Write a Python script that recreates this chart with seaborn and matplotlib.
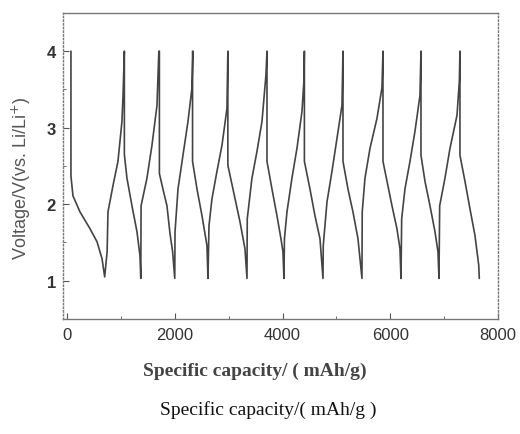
import numpy as np
import pandas as pd
import matplotlib
matplotlib.use("Agg")
import matplotlib.pyplot as plt
import seaborn as sns
from matplotlib.ticker import MultipleLocator

# ---- data (capacity in mAh/g, voltage in V) ----
discharge_cap = [
    [74, 74, 111, 241, 427, 557, 650, 700],
    [1065, 1065, 1113, 1206, 1299, 1354, 1370],
    [1715, 1715, 1780, 1855, 1911, 1960, 2000],
    [2330, 2330, 2412, 2505, 2597, 2616],
    [2985, 2985, 3080, 3210, 3302, 3340],
    [3711, 3711, 3803, 3896, 3970, 4007, 4026],
    [4405, 4405, 4508, 4601, 4694, 4750],
    [5121, 5121, 5213, 5306, 5399, 5473],
    [5863, 5863, 5937, 6030, 6122, 6178, 6197],
    [6568, 6568, 6642, 6735, 6828, 6883, 6902],
    [7291, 7291, 7384, 7477, 7570, 7640, 7650],
]
discharge_v = [
    [4.0, 2.37, 2.11, 1.90, 1.68, 1.51, 1.29, 1.05],
    [4.0, 2.65, 2.34, 1.98, 1.64, 1.33, 1.03],
    [4.0, 2.40, 2.20, 1.98, 1.62, 1.38, 1.03],
    [4.0, 2.56, 2.20, 1.85, 1.46, 1.03],
    [4.0, 2.51, 2.20, 1.77, 1.42, 1.03],
    [4.0, 2.56, 2.20, 1.85, 1.55, 1.38, 1.03],
    [4.0, 2.56, 2.20, 1.85, 1.55, 1.03],
    [4.0, 2.56, 2.20, 1.90, 1.55, 1.03],
    [4.0, 2.56, 2.30, 1.98, 1.68, 1.42, 1.03],
    [4.0, 2.64, 2.30, 1.98, 1.64, 1.38, 1.03],
    [4.0, 2.64, 2.30, 1.94, 1.59, 1.20, 1.03],
]
charge_cap = [
    [700, 745, 761, 853, 946, 1020, 1040, 1065],
    [1370, 1375, 1484, 1577, 1670, 1705],
    [2000, 2005, 2060, 2152, 2245, 2319, 2338],
    [2616, 2635, 2690, 2783, 2876, 2968, 2985],
    [3340, 3345, 3432, 3525, 3618, 3692, 3711],
    [4026, 4035, 4082, 4174, 4267, 4360, 4395, 4405],
    [4750, 4755, 4824, 4917, 5009, 5102, 5121],
    [5473, 5478, 5529, 5622, 5751, 5844, 5863],
    [6197, 6210, 6271, 6364, 6456, 6549, 6568],
    [6902, 6915, 7013, 7106, 7236, 7280, 7291],
]
charge_v = [
    [1.05, 1.38, 1.90, 2.24, 2.56, 3.08, 3.42, 4.0],
    [1.03, 1.98, 2.34, 2.77, 3.29, 4.0],
    [1.03, 1.64, 2.20, 2.64, 3.08, 3.52, 4.0],
    [1.03, 1.72, 2.07, 2.43, 2.77, 3.25, 4.0],
    [1.03, 1.81, 2.34, 2.69, 3.08, 3.69, 4.0],
    [1.03, 1.55, 1.90, 2.34, 2.73, 3.21, 3.60, 4.0],
    [1.03, 1.46, 2.03, 2.43, 2.86, 3.29, 4.0],
    [1.03, 1.90, 2.34, 2.73, 3.12, 3.52, 4.0],
    [1.03, 1.81, 2.20, 2.56, 2.95, 3.42, 4.0],
    [1.03, 1.98, 2.34, 2.73, 3.16, 3.61, 4.0],
]

x_ticks = [0, 2000, 4000, 6000, 8000]
y_ticks = [1, 2, 3, 4]

# ---- build one continuous trace: discharge, charge, discharge, ... ----
xs, ys = [], []
for i in range(len(discharge_cap)):
    xs += discharge_cap[i]
    ys += discharge_v[i]
    if i < len(charge_cap):
        xs += charge_cap[i]
        ys += charge_v[i]
df = pd.DataFrame({"cap": xs, "V": ys})

sns.set_style("ticks")
plt.rcParams["font.family"] = ["Liberation Sans", "DejaVu Sans"]

fig = plt.figure(figsize=(5.2, 4.35), dpi=100)
ax = fig.add_axes([0.121, 0.2644, 0.837, 0.7036])

sns.lineplot(data=df, x="cap", y="V", sort=False, estimator=None,
             color="#444444", linewidth=1.2, ax=ax)

ax.set_xlim(-75, 8000)
ax.set_ylim(0.5, 4.5)
ax.set_xticks(x_ticks)
ax.set_yticks(y_ticks)
ax.xaxis.set_minor_locator(MultipleLocator(1000))
ax.yaxis.set_minor_locator(MultipleLocator(0.5))
ax.tick_params(which="both", direction="in", top=False, right=False,
               colors="#555555")
ax.tick_params(which="major", length=4, width=0.8)
ax.tick_params(which="minor", length=2, width=0.6)
ax.tick_params(axis="x", labelsize=12, labelcolor="#333333", pad=6)
ax.tick_params(axis="y", labelsize=12, labelcolor="#333333", pad=5)
for lab in ax.get_yticklabels():
    lab.set_fontweight("bold")

for side in ["top", "right", "bottom", "left"]:
    ax.spines[side].set_visible(True)
    ax.spines[side].set_color("#777777")
    ax.spines[side].set_linewidth(1.0)
ax.spines["left"].set_linestyle(":")
ax.spines["right"].set_linestyle(":")

ax.set_ylabel("Voltage/V(vs. Li/Li$^{+}$)", fontsize=13, color="#555555")
ax.yaxis.set_label_coords(-0.069, 0.464)
ax.set_xlabel("")

fig.text(0.490, 1 - 371 / 435, "Specific capacity/ ( mAh/g)",
         family="Liberation Serif", fontsize=14, fontweight="bold",
         color="#444444", ha="center", va="center")
fig.text(0.515, 1 - 410 / 435, "Specific capacity/( mAh/g )",
         family="Liberation Serif", fontsize=14, color="#111111",
         ha="center", va="center")

fig.savefig("out.png", dpi=100)
